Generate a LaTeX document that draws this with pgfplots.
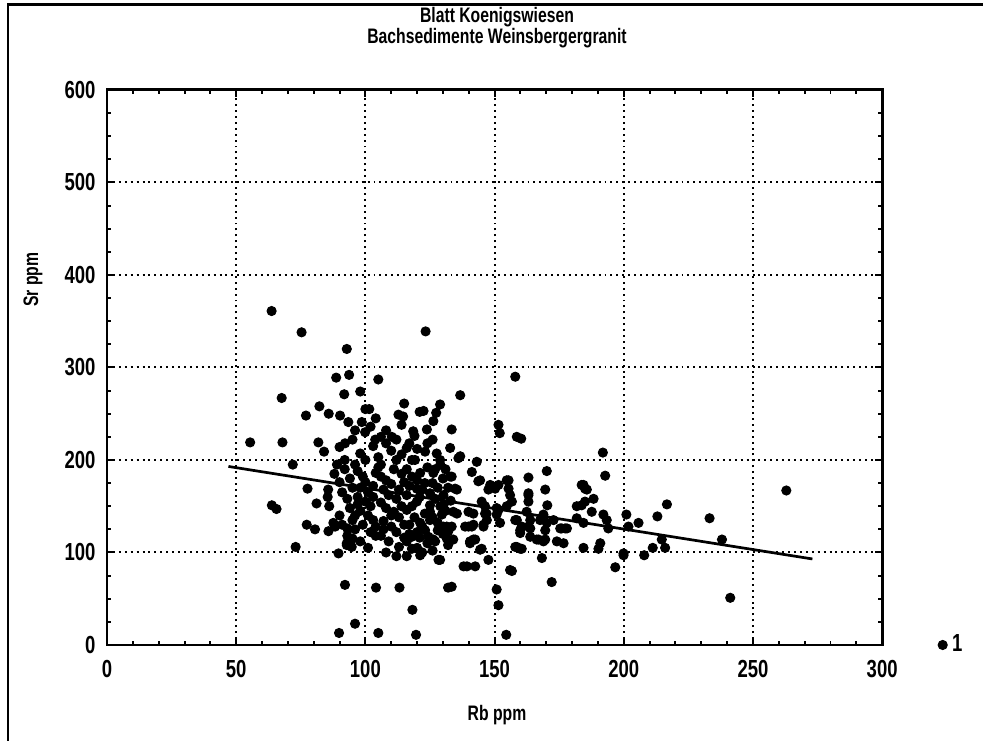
\documentclass[border=0pt]{standalone}
\usepackage{pgfplots}
\pgfplotsset{compat=1.18}
\usepackage{fontspec}
\setmainfont{Liberation Sans}[FakeStretch=0.75]

\pgfplotstableread{
x y
63.7 361
75.3 338
92.8 320
123.3 339
88.7 289
93.7 292
105 287
158 290
67.6 267
91.8 271
98 274
136.7 270
82.2 258
77 248
85.8 250
90.2 248
93.4 241
98.6 241
101.5 255
115 261
112.8 249
114.6 247
121 252
128.9 260
122.5 253
127.4 251
126.3 242
133.4 233
99.9 230
118.5 231
123.8 233
151.5 238
152 229
158.6 225
160.3 223
110.2 225
103.8 222
55.4 219
67.9 219
81.8 219
84 209
92.1 218
90 214
71.9 195
77.6 169
81.1 153
63.8 151
65.6 147
77.3 130
80.5 125
86 150
85.4 160
85.6 168
87.6 132
88.3 128
85.7 123
93 126
92.8 110
73 106
92.8 108
94.7 106
89.6 99
92.1 65
104.1 62
113.2 62
118.2 38
96 23
89.8 13
105 13
119.6 11
132 62
150.8 60
151.5 43
154.5 11
172.1 68
156.7 80
168.3 94
147.6 92
139.3 85
142.5 85
128.3 92
121.2 97
196.7 84
241.2 51
262.9 167
233.2 137
238 114
216.7 152
213 139
205.7 132
201.8 128
201 141
191.9 208
192.8 183
192.1 141
193.4 135
194 126
214.7 114
216 105
211.2 105
207.9 97
199.9 97
190.9 110
190.2 104
184.4 105
170.2 188
163.1 181
169.6 168
170.4 151
184.4 173
185.7 168
181.8 150
185 155
188.3 158
187.6 144
181.8 137
184.4 132
183.7 151
158.6 106
159.9 104
145 104
159.9 124
163.8 126
166.3 114
169.6 114
174.1 112
176.7 110
175.4 126
177.3 126
170.2 132
163.8 135
162.4 144
163.1 162
155.4 178
154.7 150
158 135
150.8 141
152.1 132
150.8 148
147.6 168
149.6 171
143.7 177
141.2 187
145 155
145.7 128
141.2 128
138.6 128
140.5 112
142.5 114
135.4 168
132.8 182
132.8 213
136 202
143.1 198
127.6 207
128.9 200
134 144
135.4 142
130.2 128
132.1 123
125 144
123.1 209
136.7 204
144.4 178
148.3 173
150.2 169
151.5 173
154.7 178
155.4 169
163.1 164
163.1 155
156 162
156.7 155
151.5 146
146.3 150
146.9 142
139.9 144
141.8 142
134.7 169
133.4 182
130.2 162
130.2 151
125 164
125 151
119.9 155
119.9 169
121.2 186
126.3 186
119.2 200
158.6 135
160.5 128
159.9 121
163.1 128
163.8 117
167 114
168.9 112
169.6 124
176 126
178 126
168.9 141
172.8 135
167.6 135
183.7 173
185 169
199.9 99
156 81
160.5 104
158 106
138 85
133.4 63
144.4 103
140.5 110
141.8 114
134 114
131.5 115
128.9 92
124.4 117
126.3 114
139.9 128
141.8 130
145.7 130
133.4 128
131.5 128
147 135
146.3 142
129.6 141
121.2 132
123.1 124
118 117
120 105
100 255
104 245
108 232
106 225
112 222
95 222
103 215
110 210
116 213
98 207
105 203
112 200
118 200
92 200
114 238
119 226
124 218
96 232
102 236
114 206
120 212
126 222
108 218
117 218
88 185
90 176
91 165
93 158
94 148
90 140
95 135
92 190
94 180
89 195
95 170
93 118
91 130
95 115
96 195
97 188
99 182
100 176
98 170
101 165
97 160
100 155
102 150
98 145
101 140
103 135
99 130
96 125
102 122
104 118
98 112
101 105
104 128
103 172
104 186
97 152
103 160
105 192
100 200
96 140
106 182
108 178
110 174
107 168
109 162
112 158
106 154
108 148
111 144
113 138
107 134
110 128
112 122
106 118
109 112
113 106
108 100
111 190
114 185
106 195
113 168
115 176
114 150
110 140
107 125
115 130
112 96
115 116
116 190
118 182
120 178
117 172
122 168
116 162
121 160
118 150
116 146
123 142
119 138
117 130
122 128
120 122
116 112
124 110
118 104
122 100
116 96
124 192
123 175
117 120
121 116
125 135
126 175
128 170
130 180
127 158
129 150
131 145
126 138
128 132
130 120
127 112
132 108
126 102
129 195
131 190
127 190
133 156
132 170
128 124
}\srdata

\begin{document}
\begin{tikzpicture}[font=\fontsize{8.5}{10}\selectfont\bfseries]
\useasboundingbox (-1.524,-1.367) rectangle (12.476,9.186);
\draw[line width=1.2pt] (-1.41,-1.367) -- (-1.41,9.115) -- (12.476,9.115);
\begin{axis}[
    at={(0,0)}, anchor=south west,
    scale only axis,
    width=11.04cm, height=7.905cm,
    xmin=0, xmax=300, ymin=0, ymax=600,
    xtick={0,50,...,300},
    ytick={0,100,...,600},
    minor x tick num=4,
    minor y tick num=3,
    tick align=inside,
    major tick length=0.1cm,
    minor tick length=0.06cm,
    every tick/.style={black, line width=0.8pt},
    axis line style={line width=1.2pt},
    grid=major,
    major grid style={black, line width=0.8pt, dash pattern=on 0.8pt off 1.6pt},
    ticklabel style={font=\fontsize{10}{12}\selectfont\bfseries},
    /pgf/number format/assume math mode=true,
    xticklabel style={yshift=-0.1cm},
    yticklabel style={xshift=-0.04cm},
    legend style={draw=none, fill=none, at={(1.062,0)}, anchor=west,
        font=\fontsize{10}{12}\selectfont\bfseries},
    legend cell align=left,
]
\addplot[only marks, mark=*, mark size=1.85pt, black] table {\srdata};
\addlegendentry{1}
\addplot[black, line width=1.1pt, no marks, forget plot] coordinates {(47,193) (273,93)};
\end{axis}
\node at (5.554,8.94) {Blatt Koenigswiesen};
\node at (5.554,8.64) {Bachsedimente Weinsbergergranit};
\node[rotate=90] at (-1.054,5.2) {Sr ppm};
\node at (5.554,-0.997) {Rb ppm};
\end{tikzpicture}
\end{document}
